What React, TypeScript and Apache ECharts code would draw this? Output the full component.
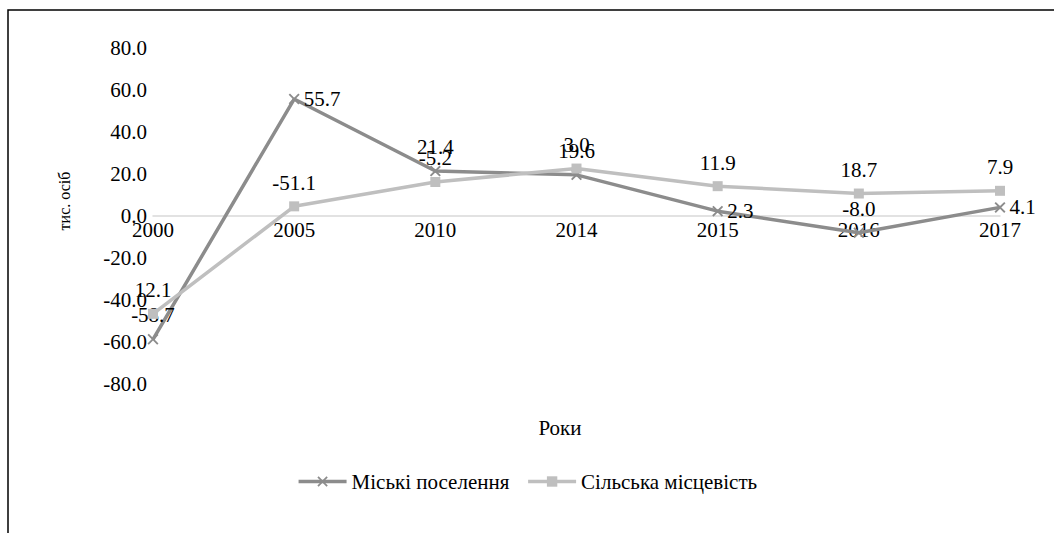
import React, { useEffect, useRef } from "react";
import * as echarts from "echarts";

// Years on the category axis
const years = ["2000", "2005", "2010", "2014", "2015", "2016", "2017"];
// Annual change, thousand persons
const urban = [-58.7, 55.7, 21.4, 19.6, 2.3, -8.0, 4.1];
const rural = [12.1, -51.1, -5.2, 3.0, 11.9, 18.7, 7.9];
// Value axis ticks
const yTicks = { min: -80, max: 80, step: 20 };

// Where each urban label sits around its point
const urbanLabelSide = ["top", "right", "top", "top", "right", "top", "right"];

const FONT = "Liberation Serif";
const FS = 21;
const DARK = "#8c8c8c";
const LIGHT = "#bfbfbf";

const GRID_TOP = 48;
const GRID_BOTTOM = 149;
const CHART_H = 533;

const crossPath =
  "path://M0,1.2 L1.2,0 L5,3.8 L8.8,0 L10,1.2 L6.2,5 L10,8.8 L8.8,10 L5,6.2 L1.2,10 L0,8.8 L3.8,5 Z";

export default function App() {
  const ref = useRef<HTMLDivElement>(null);

  useEffect(() => {
    if (!ref.current) return;
    const chart = echarts.init(ref.current, null, { renderer: "svg" });
    const fmt = (p: any) => Number(p.value).toFixed(1);

    // lift the category axis (line + labels) up to the zero level
    const plotH = CHART_H - GRID_TOP - GRID_BOTTOM;
    const zeroLift = -plotH * ((0 - yTicks.min) / (yTicks.max - yTicks.min));

    chart.setOption({
      animation: false,
      textStyle: { fontFamily: FONT },
      graphic: [
        {
          type: "rect",
          shape: { x: 8, y: 10, width: 1200, height: 700 },
          style: { fill: "none", stroke: "#000", lineWidth: 1.5 },
          silent: true,
        },
        {
          type: "text",
          x: 560,
          y: 428,
          style: {
            text: "Роки",
            fontFamily: FONT,
            fontSize: FS,
            fill: "#000",
            align: "center",
            verticalAlign: "middle",
          },
        },
        {
          type: "text",
          x: 64,
          y: 201,
          rotation: Math.PI / 2,
          style: {
            text: "тис. осіб",
            fontFamily: FONT,
            fontSize: 16,
            fill: "#000",
            align: "center",
            verticalAlign: "middle",
          },
        },
      ],
      grid: { left: 153, right: 54, top: GRID_TOP, bottom: GRID_BOTTOM },
      legend: {
        left: "center",
        top: 466,
        itemWidth: 48,
        itemHeight: 13,
        itemGap: 17,
        lineStyle: { width: 3.5 },
        textStyle: { fontFamily: FONT, fontSize: FS, color: "#000" },
        data: ["Міські поселення", "Сільська місцевість"],
      },
      xAxis: {
        type: "category",
        data: years,
        boundaryGap: false,
        position: "bottom",
        offset: zeroLift,
        axisLine: { onZero: false, lineStyle: { color: "#d9d9d9", width: 1.5 } },
        axisTick: { show: false },
        axisLabel: {
          margin: 3,
          fontFamily: FONT,
          fontSize: FS,
          color: "#000",
        },
        splitLine: { show: false },
      },
      yAxis: {
        type: "value",
        min: yTicks.min,
        max: yTicks.max,
        interval: yTicks.step,
        axisLine: { show: false },
        axisTick: { show: false },
        splitLine: { show: false },
        axisLabel: {
          margin: 6,
          fontFamily: FONT,
          fontSize: FS,
          color: "#000",
          formatter: (v: number) => v.toFixed(1),
        },
      },
      series: [
        {
          name: "Міські поселення",
          type: "line",
          stack: "total",
          stackStrategy: "all",
          data: urban.map((v, i) => ({
            value: v,
            label: {
              position: urbanLabelSide[i],
              distance: urbanLabelSide[i] === "right" ? 4 : 8,
            },
          })),
          symbol: crossPath,
          symbolSize: 11,
          showAllSymbol: true,
          lineStyle: { color: DARK, width: 3.5 },
          itemStyle: { color: DARK },
          label: {
            show: true,
            fontFamily: FONT,
            fontSize: FS,
            color: "#000",
            formatter: fmt,
          },
          z: 2,
        },
        {
          name: "Сільська місцевість",
          type: "line",
          stack: "total",
          stackStrategy: "all",
          data: rural,
          symbol: "rect",
          symbolSize: 10,
          showAllSymbol: true,
          lineStyle: { color: LIGHT, width: 3.5 },
          itemStyle: { color: LIGHT },
          label: {
            show: true,
            position: "top",
            distance: 8,
            fontFamily: FONT,
            fontSize: FS,
            color: "#000",
            formatter: fmt,
          },
          z: 3,
        },
      ],
    });

    return () => chart.dispose();
  }, []);

  return (
    <div
      ref={ref}
      style={{ position: "absolute", left: 0, top: 0, width: 1054, height: 533, background: "#fff" }}
    />
  );
}
